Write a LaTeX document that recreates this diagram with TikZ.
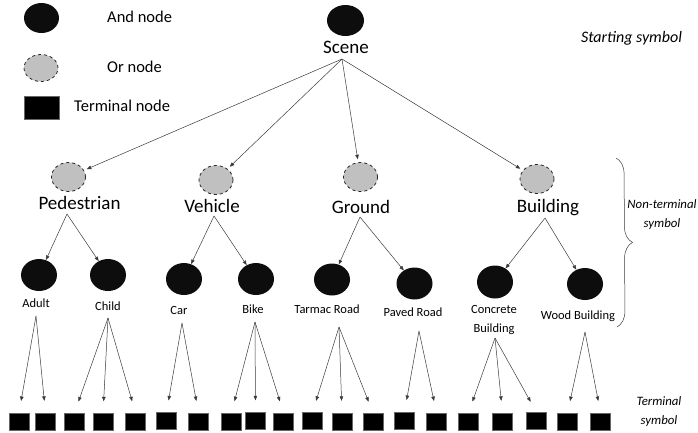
\documentclass[tikz,border=0pt]{standalone}
\usepackage{fontspec}
\setmainfont{Carlito}
\usetikzlibrary{shapes.geometric,arrows.meta,decorations.pathreplacing}
\definecolor{orfill}{HTML}{C0C0C0}
\definecolor{linec}{HTML}{3A3A3A}
\begin{document}
\begin{tikzpicture}[x=1pt,y=-1pt,
  andnode/.style={ellipse,fill=black!95,minimum width=36pt,minimum height=32pt,inner sep=0pt},
  ornode/.style={ellipse,fill=orfill,draw=black!85,dashed,line width=0.8pt,minimum width=34pt,minimum height=29pt,inner sep=0pt},
  termnode/.style={rectangle,fill=black,draw=black!60,line width=0.4pt,minimum width=20pt,minimum height=17pt,inner sep=0pt},
  biglabel/.style={inner sep=1pt,font=\fontsize{19}{22}\selectfont},
  smalllabel/.style={inner sep=1pt,font=\fontsize{12.5}{19}\selectfont,align=center},
  legendtext/.style={anchor=west,inner sep=0pt,font=\fontsize{16.5}{19}\selectfont},
  notetext/.style={inner sep=0pt,align=center,font=\itshape\fontsize{12.8}{19}\selectfont},
  arr/.style={draw=linec,line width=0.5pt,-{Triangle[length=4.5pt,width=3.5pt]}},
  tarr/.style={arr,shorten >=12pt}
]
\useasboundingbox (0,0) rectangle (698,432);

% legend
\node[andnode,minimum width=35pt,minimum height=30pt] (legand) at (41.5,18) {};
\node[legendtext] (legandt) at (107,17) {And node};
\node[ornode,minimum width=34pt,minimum height=27pt] (legor) at (41,68) {};
\node[legendtext] (legort) at (107,67) {Or node};
\node[termnode,minimum width=35pt,minimum height=23pt] (legterm) at (41.5,107.5) {};
\node[legendtext] (legtermt) at (74,106) {Terminal node};

% annotations
\node[notetext,font=\itshape\fontsize{16}{19}\selectfont] (startnote) at (631.5,38) {Starting symbol};
\node[notetext] (ntnote) at (662,215) {Non-terminal\\symbol};
\node[notetext] (tnote) at (659,412) {Terminal\\symbol};
\draw[linec,line width=0.5pt,decorate,decoration={brace,amplitude=16pt}] (616,158) -- (617,327) coordinate (braceend);

% root
\node[andnode,minimum width=37pt,minimum height=31pt] (scene) at (345.5,20.5) {};
\node[biglabel] (scenet) at (346,47) {Scene};
\coordinate (sceneA) at (342,59);

% or nodes
\node[ornode] (ped) at (68.5,177) {};
\node[biglabel] (pedt) at (79.5,203) {Pedestrian};
\node[ornode] (veh) at (216,180) {};
\node[biglabel] (veht) at (212,206) {Vehicle};
\node[ornode] (gro) at (360.5,177) {};
\node[biglabel] (grot) at (361,207) {Ground};
\node[ornode] (bui) at (537,179) {};
\node[biglabel] (buit) at (548,208) {Building};

\foreach \n in {ped,veh,gro,bui}
  \draw[arr,shorten >=3pt] (sceneA) -- (\n);

\coordinate (pedA) at (67,214);
\coordinate (vehA) at (214,216);
\coordinate (groA) at (360,217);
\coordinate (buiA) at (545,218);

% and nodes
\node[andnode] (adult) at (39,275) {};
\node[smalllabel] (adultt) at (36,303) {Adult};
\node[andnode] (child) at (108,275) {};
\node[smalllabel] (childt) at (108,306) {Child};
\node[andnode] (car) at (184,279) {};
\node[smalllabel] (cart) at (179,310) {Car};
\node[andnode] (bike) at (256,279) {};
\node[smalllabel] (biket) at (253,309) {Bike};
\node[andnode] (tarmac) at (332,279.5) {};
\node[smalllabel] (tarmact) at (327,309) {Tarmac Road};
\node[andnode] (paved) at (414.5,283.5) {};
\node[smalllabel] (pavedt) at (413,312) {Paved Road};
\node[andnode,minimum height=33pt] (concrete) at (495,282) {};
\node[smalllabel] (concretet) at (494,320.5) {Concrete\\Building};
\node[andnode] (wood) at (585,284) {};
\node[smalllabel] (woodt) at (578,316) {Wood Building};

\draw[arr] (pedA) -- (adult);
\draw[arr] (pedA) -- (child);
\draw[arr] (vehA) -- (car);
\draw[arr] (vehA) -- (bike);
\draw[arr] (groA) -- (tarmac);
\draw[arr] (groA) -- (paved);
\draw[arr] (buiA) -- (concrete);
\draw[arr] (buiA) -- (wood);

% terminals
\foreach \i/\x/\y in {1/19/421.5,2/45.5/421.5,3/74.5/421.5,4/103/422,5/135.5/421.5,
  6/166.5/421,7/198.5/421.5,8/231.5/421.5,9/255.5/421,10/283.5/421.5,
  11/312.5/421,12/342/421.5,13/373/421.5,14/404.5/420.5,15/436.5/421.5,
  16/468.5/421.5,17/502.5/421.5,18/536.5/421,19/567.5/421.5,20/600.5/421.5}
  \node[termnode] (t\i) at (\x,\y) {};

\coordinate (adultA) at (36,316);
\coordinate (childA) at (108,318);
\coordinate (carA) at (182,323);
\coordinate (bikeA) at (255,322);
\coordinate (tarmacA) at (339,327);
\coordinate (pavedA) at (419,331);
\coordinate (concreteA) at (495,338);
\coordinate (woodA) at (585,332);

\foreach \a/\t in {adultA/t1,adultA/t2,childA/t3,childA/t4,childA/t5,
  carA/t6,carA/t7,bikeA/t8,bikeA/t9,bikeA/t10,tarmacA/t11,tarmacA/t12,tarmacA/t13,
  pavedA/t14,pavedA/t15,concreteA/t16,concreteA/t17,concreteA/t18,woodA/t19,woodA/t20}
  \draw[tarr] (\a) -- (\t.north);
\end{tikzpicture}
\end{document}
